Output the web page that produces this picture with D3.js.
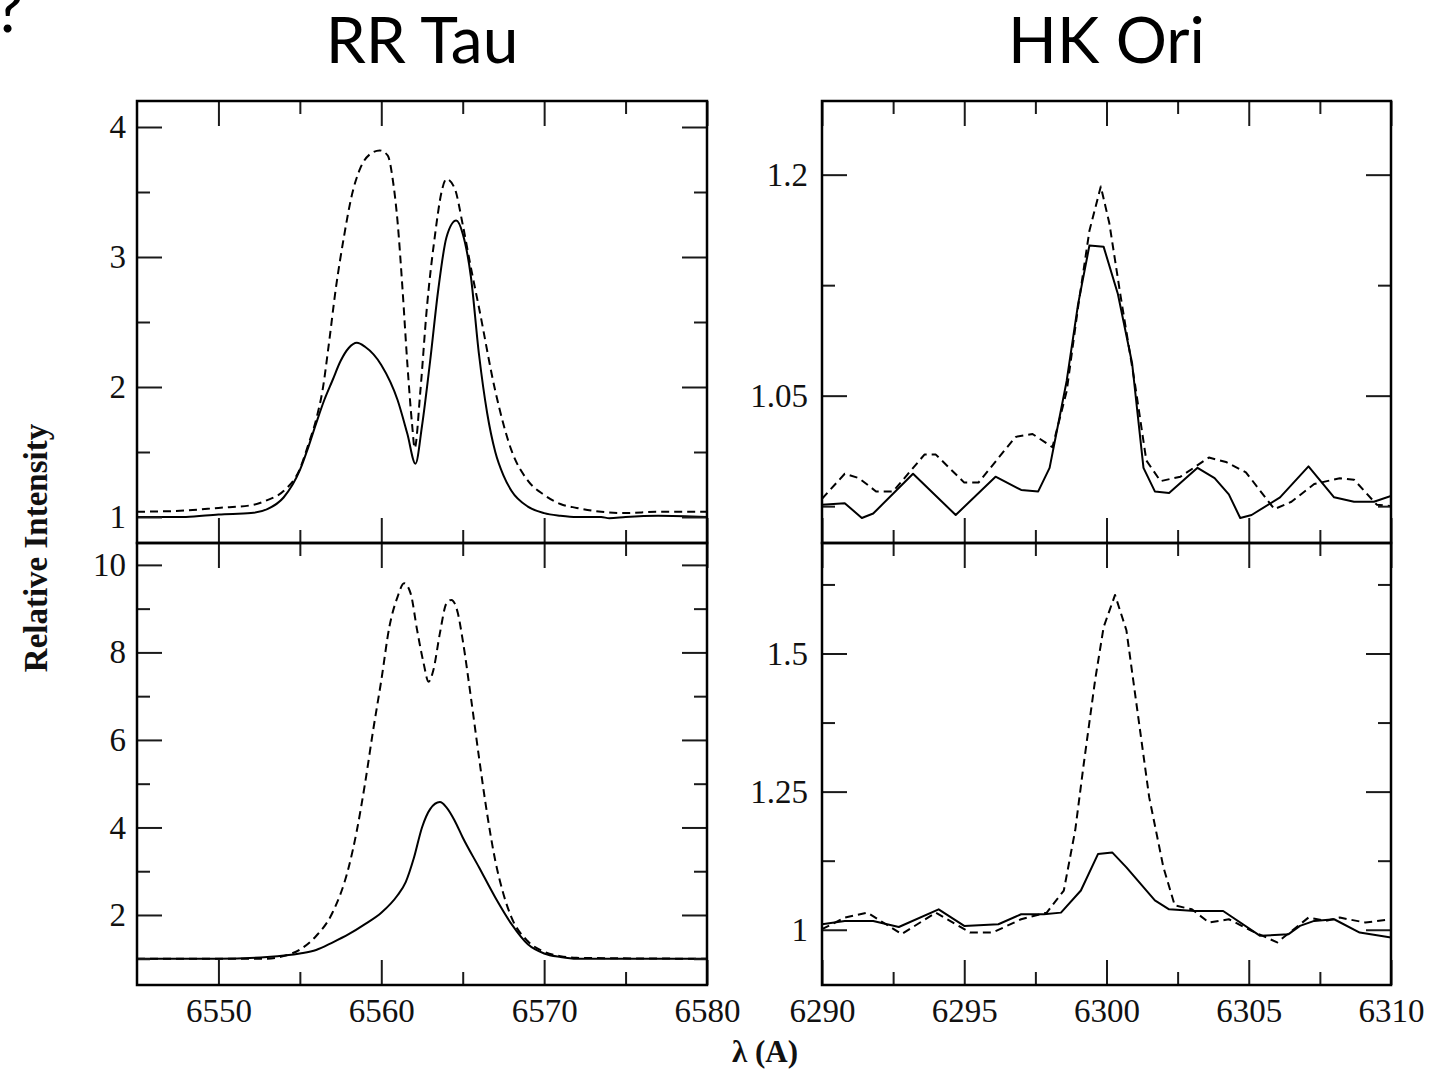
<!DOCTYPE html>
<html>
<head>
<meta charset="utf-8">
<script src="https://cdn.jsdelivr.net/npm/d3@7"></script>
<style>
  body { margin: 0; background: #fff; }
  svg { display: block; }
</style>
</head>
<body>
<svg id="fig" width="1444" height="1074"></svg>
<script>
// ---- RR Tau, H-alpha region (upper panel) ----
const rrTauUpperSolidWave = [6545, 6548, 6550, 6552, 6553, 6554, 6555, 6555.5, 6556, 6556.5, 6557, 6557.5, 6558, 6558.5, 6559, 6560, 6561, 6561.6, 6562.1, 6562.5, 6563, 6563.5, 6564, 6564.6, 6565, 6565.5, 6566, 6566.5, 6567, 6567.5, 6568, 6569, 6570, 6571, 6572, 6573.5, 6574, 6575, 6577, 6580];
const rrTauUpperSolidFlux = [1.0, 1.0, 1.02, 1.03, 1.06, 1.15, 1.36, 1.53, 1.72, 1.9, 2.05, 2.2, 2.3, 2.34, 2.31, 2.17, 1.90, 1.64, 1.41, 1.70, 2.20, 2.75, 3.15, 3.28, 3.18, 2.85, 2.25, 1.8, 1.5, 1.32, 1.2, 1.08, 1.03, 1.01, 1.0, 1.0, 0.99, 1.0, 1.01, 1.0];
const rrTauUpperDashWave = [6545, 6548, 6550, 6552, 6553, 6554, 6555, 6555.5, 6556, 6556.4, 6556.8, 6557.2, 6557.7, 6558.2, 6558.7, 6559.3, 6559.9, 6560.4, 6560.7, 6561.0, 6561.3, 6561.6, 6561.9, 6562.05, 6562.4, 6562.8, 6563.3, 6563.7, 6564.0, 6564.5, 6565.0, 6565.5, 6566, 6567, 6568, 6569, 6570, 6571, 6572, 6573.5, 6575, 6577, 6580];
const rrTauUpperDashFlux = [1.04, 1.05, 1.07, 1.09, 1.13, 1.20, 1.37, 1.55, 1.75, 1.98, 2.35, 2.75, 3.15, 3.48, 3.68, 3.79, 3.82, 3.78, 3.60, 3.27, 2.76, 2.18, 1.70, 1.53, 1.97, 2.61, 3.17, 3.50, 3.60, 3.53, 3.25, 2.92, 2.61, 1.97, 1.51, 1.28, 1.17, 1.10, 1.07, 1.04, 1.03, 1.04, 1.04];

// ---- RR Tau, H-alpha region (lower panel) ----
const rrTauLowerSolidWave = [6545, 6550, 6553, 6555, 6556, 6557, 6558, 6559, 6560, 6561, 6561.5, 6562, 6562.5, 6563, 6563.6, 6564, 6564.5, 6565, 6566, 6567, 6568, 6569, 6570, 6571, 6572, 6575, 6580];
const rrTauLowerSolidFlux = [1.0, 1.0, 1.04, 1.12, 1.2, 1.37, 1.56, 1.79, 2.05, 2.45, 2.75, 3.3, 4.0, 4.42, 4.58, 4.46, 4.16, 3.77, 3.09, 2.40, 1.79, 1.33, 1.12, 1.04, 1.0, 1.0, 1.0];
const rrTauLowerDashWave = [6545, 6550, 6553, 6554, 6555, 6556, 6557, 6558, 6558.5, 6559, 6559.5, 6560, 6560.5, 6561, 6561.4, 6561.8, 6562.2, 6562.6, 6562.9, 6563.2, 6563.6, 6564, 6564.3, 6564.7, 6565, 6565.5, 6566, 6566.5, 6567, 6567.5, 6568, 6569, 6570, 6571, 6572, 6580];
const rrTauLowerDashFlux = [1.0, 1.0, 1.0, 1.06, 1.21, 1.52, 2.05, 3.09, 3.93, 5.0, 6.22, 7.36, 8.59, 9.27, 9.58, 9.35, 8.51, 7.75, 7.33, 7.6, 8.44, 9.12, 9.2, 8.9, 8.28, 6.98, 5.6, 4.31, 3.24, 2.48, 1.94, 1.4, 1.16, 1.06, 1.02, 1.0];

// ---- HK Ori, [O I] 6300 region (upper panel) ----
const hkOriUpperSolidWave = [6290, 6290.8, 6291.4, 6291.8, 6293.2, 6294.7, 6296.1, 6297.0, 6297.6, 6298.0, 6298.6, 6299.0, 6299.4, 6299.9, 6300.4, 6300.9, 6301.3, 6301.7, 6302.2, 6303.2, 6303.8, 6304.3, 6304.7, 6305.1, 6306.1, 6307.1, 6308.0, 6308.7, 6309.4, 6310];
const hkOriUpperSolidFlux = [0.976, 0.977, 0.967, 0.970, 0.997, 0.969, 0.995, 0.986, 0.985, 1.001, 1.06, 1.112, 1.152, 1.151, 1.119, 1.072, 1.001, 0.985, 0.984, 1.001, 0.994, 0.983, 0.967, 0.969, 0.981, 1.002, 0.981, 0.978, 0.978, 0.982];
const hkOriUpperDashWave = [6290, 6290.8, 6291.3, 6291.9, 6292.5, 6293.6, 6294.0, 6295.0, 6295.5, 6296.8, 6297.4, 6298.1, 6298.6, 6299.0, 6299.4, 6299.8, 6300.1, 6300.5, 6301.0, 6301.4, 6301.9, 6302.6, 6303.6, 6304.2, 6304.9, 6305.9, 6306.5, 6307.3, 6308.2, 6308.7, 6309.5, 6310];
const hkOriUpperDashFlux = [0.980, 0.997, 0.994, 0.985, 0.985, 1.010, 1.010, 0.991, 0.991, 1.022, 1.024, 1.015, 1.053, 1.11, 1.162, 1.192, 1.167, 1.117, 1.058, 1.006, 0.992, 0.995, 1.008, 1.005, 0.998, 0.973, 0.978, 0.99, 0.994, 0.993, 0.976, 0.975];

// ---- HK Ori, [O I] 6300 region (lower panel) ----
const hkOriLowerSolidWave = [6290, 6290.8, 6291.8, 6292.7, 6294.1, 6295.0, 6296.2, 6297.0, 6297.8, 6298.4, 6299.1, 6299.7, 6300.2, 6300.7, 6301.7, 6302.2, 6303.1, 6304.1, 6305.4, 6306.4, 6306.8, 6307.3, 6308.0, 6308.9, 6310];
const hkOriLowerSolidFlux = [1.010, 1.016, 1.016, 1.005, 1.037, 1.007, 1.010, 1.028, 1.028, 1.031, 1.071, 1.137, 1.140, 1.113, 1.053, 1.037, 1.034, 1.034, 0.989, 0.992, 1.007, 1.016, 1.019, 0.995, 0.986];
const hkOriLowerDashWave = [6290, 6290.8, 6291.6, 6292.8, 6294.0, 6295.2, 6296.0, 6297.0, 6297.9, 6298.5, 6298.9, 6299.2, 6299.6, 6299.9, 6300.3, 6300.7, 6301.1, 6301.5, 6302.0, 6302.4, 6303.0, 6303.6, 6304.3, 6305.1, 6306.0, 6307.1, 6307.7, 6308.2, 6309.1, 6310];
const hkOriLowerDashFlux = [1.001, 1.022, 1.031, 0.992, 1.031, 0.995, 0.995, 1.019, 1.031, 1.071, 1.18, 1.30, 1.452, 1.548, 1.606, 1.542, 1.391, 1.24, 1.113, 1.044, 1.037, 1.013, 1.019, 0.998, 0.977, 1.022, 1.016, 1.022, 1.013, 1.019];

// ---- Axis ticks and labels ----
const haMajorTicks = [6550, 6560, 6570, 6580];
const haMinorTicks = [6555, 6565, 6575];
const haTickLabels = ["6550", "6560", "6570", "6580"];
const oiMajorTicks = [6290, 6295, 6300, 6305, 6310];
const oiMinorTicks = [6292.5, 6297.5, 6302.5, 6307.5];
const oiTickLabels = ["6290", "6295", "6300", "6305", "6310"];

const rrUpperYTicks = [1, 2, 3, 4];
const rrUpperYMinor = [1.5, 2.5, 3.5];
const rrUpperYLabels = ["1", "2", "3", "4"];
const rrLowerYTicks = [2, 4, 6, 8, 10];
const rrLowerYMinor = [1, 3, 5, 7, 9];
const rrLowerYLabels = ["2", "4", "6", "8", "10"];
const hkUpperYTicks = [1.05, 1.2];
const hkUpperYMinor = [0.975, 1.125];
const hkUpperYLabels = ["1.05", "1.2"];
const hkLowerYTicks = [1, 1.25, 1.5];
const hkLowerYMinor = [1.125, 1.375, 1.625];
const hkLowerYLabels = ["1", "1.25", "1.5"];

const titles = ["RR Tau", "HK Ori"];
const yTitle = "Relative Intensity";
const xTitle = "\u03bb (A)";

// ---- Layout ----
const svg = d3.select("#fig");
const cols = [{ x0: 137, x1: 707 }, { x0: 822, x1: 1391 }];
const rows = [{ y0: 101, y1: 543 }, { y0: 543, y1: 985 }];
const MAJOR = 25, MINOR = 13;
const tickFont = "'Liberation Serif', 'Times New Roman', serif";

const panels = [
  { col: 0, row: 0, xDom: [6545, 6580], yDom: [0.8, 4.2], xMaj: haMajorTicks, xMin: haMinorTicks, xLab: null,
    yMaj: rrUpperYTicks, yMin: rrUpperYMinor, yLab: rrUpperYLabels, smooth: true,
    solid: [rrTauUpperSolidWave, rrTauUpperSolidFlux], dash: [rrTauUpperDashWave, rrTauUpperDashFlux] },
  { col: 0, row: 1, xDom: [6545, 6580], yDom: [0.4, 10.5], xMaj: haMajorTicks, xMin: haMinorTicks, xLab: haTickLabels,
    yMaj: rrLowerYTicks, yMin: rrLowerYMinor, yLab: rrLowerYLabels, smooth: true,
    solid: [rrTauLowerSolidWave, rrTauLowerSolidFlux], dash: [rrTauLowerDashWave, rrTauLowerDashFlux] },
  { col: 1, row: 0, xDom: [6290, 6310], yDom: [0.95, 1.25], xMaj: oiMajorTicks, xMin: oiMinorTicks, xLab: null,
    yMaj: hkUpperYTicks, yMin: hkUpperYMinor, yLab: hkUpperYLabels, smooth: false,
    solid: [hkOriUpperSolidWave, hkOriUpperSolidFlux], dash: [hkOriUpperDashWave, hkOriUpperDashFlux] },
  { col: 1, row: 1, xDom: [6290, 6310], yDom: [0.9, 1.7], xMaj: oiMajorTicks, xMin: oiMinorTicks, xLab: oiTickLabels,
    yMaj: hkLowerYTicks, yMin: hkLowerYMinor, yLab: hkLowerYLabels, smooth: false,
    solid: [hkOriLowerSolidWave, hkOriLowerSolidFlux], dash: [hkOriLowerDashWave, hkOriLowerDashFlux] }
];

function styleAxis(g) {
  g.select(".domain").remove();
  g.selectAll(".tick line").attr("stroke", "#1a1a1a").attr("stroke-width", 2);
  g.selectAll(".tick text").attr("fill", "#111").style("font-family", tickFont).style("font-size", "33px");
}

panels.forEach(p => {
  const c = cols[p.col], r = rows[p.row];
  const x = d3.scaleLinear().domain(p.xDom).range([c.x0, c.x1]);
  const y = d3.scaleLinear().domain(p.yDom).range([r.y1, r.y0]);
  const g = svg.append("g");
  const clipId = `clip-${p.col}-${p.row}`;
  g.append("clipPath").attr("id", clipId).append("rect")
    .attr("x", c.x0).attr("y", r.y0).attr("width", c.x1 - c.x0).attr("height", r.y1 - r.y0);

  // spectra: dashed first, solid on top
  const line = d3.line()
    .x(d => x(d[0])).y(d => y(d[1]))
    .curve(p.smooth ? d3.curveMonotoneX : d3.curveLinear);
  const plot = g.append("g").attr("clip-path", `url(#${clipId})`);
  [[p.dash, "8,5"], [p.solid, null]].forEach(([s, dash]) => {
    const pts = s[0].map((w, i) => [w, s[1][i]]);
    plot.append("path").datum(pts)
      .attr("d", line).attr("fill", "none").attr("stroke", "#000")
      .attr("stroke-width", 2).attr("stroke-linejoin", "round")
      .attr("stroke-dasharray", dash);
  });

  // x ticks, bottom and top, pointing inward
  const xLab = p.xLab;
  g.append("g").attr("transform", `translate(0,${r.y1})`)
    .call(d3.axisBottom(x).tickValues(p.xMaj).tickSizeInner(-MAJOR).tickSizeOuter(0).tickPadding(14)
      .tickFormat((d, i) => xLab ? xLab[i] : ""))
    .call(styleAxis);
  g.append("g").attr("transform", `translate(0,${r.y1})`)
    .call(d3.axisBottom(x).tickValues(p.xMin).tickSizeInner(-MINOR).tickSizeOuter(0).tickFormat(""))
    .call(styleAxis);
  g.append("g").attr("transform", `translate(0,${r.y0})`)
    .call(d3.axisTop(x).tickValues(p.xMaj).tickSizeInner(-MAJOR).tickSizeOuter(0).tickFormat(""))
    .call(styleAxis);
  g.append("g").attr("transform", `translate(0,${r.y0})`)
    .call(d3.axisTop(x).tickValues(p.xMin).tickSizeInner(-MINOR).tickSizeOuter(0).tickFormat(""))
    .call(styleAxis);

  // y ticks, left and right, pointing inward
  g.append("g").attr("transform", `translate(${c.x0},0)`)
    .call(d3.axisLeft(y).tickValues(p.yMaj).tickSizeInner(-MAJOR).tickSizeOuter(0).tickPadding(p.col ? 14 : 11)
      .tickFormat((d, i) => p.yLab[i]))
    .call(styleAxis);
  g.append("g").attr("transform", `translate(${c.x0},0)`)
    .call(d3.axisLeft(y).tickValues(p.yMin).tickSizeInner(-MINOR).tickSizeOuter(0).tickFormat(""))
    .call(styleAxis);
  g.append("g").attr("transform", `translate(${c.x1},0)`)
    .call(d3.axisRight(y).tickValues(p.yMaj).tickSizeInner(-MAJOR).tickSizeOuter(0).tickFormat(""))
    .call(styleAxis);
  g.append("g").attr("transform", `translate(${c.x1},0)`)
    .call(d3.axisRight(y).tickValues(p.yMin).tickSizeInner(-MINOR).tickSizeOuter(0).tickFormat(""))
    .call(styleAxis);

  // frame
  g.append("rect")
    .attr("x", c.x0).attr("y", r.y0).attr("width", c.x1 - c.x0).attr("height", r.y1 - r.y0)
    .attr("fill", "none").attr("stroke", "#000").attr("stroke-width", 2.5);
});

// column titles
const titleFont = "Lato, 'Open Sans', sans-serif";
titles.forEach((t, i) => {
  svg.append("text")
    .attr("x", (cols[i].x0 + cols[i].x1) / 2).attr("y", 63)
    .attr("text-anchor", "middle")
    .style("font-family", titleFont).style("font-size", "64px").attr("fill", "#000")
    .text(t);
});

// trailing mark of the slide heading above the figure
svg.append("text")
  .attr("x", 9).attr("y", 32).attr("text-anchor", "middle")
  .style("font-family", titleFont).style("font-size", "64px").attr("fill", "#000")
  .text("?");

// axis titles
svg.append("text")
  .attr("transform", "translate(47,548) rotate(-90)")
  .attr("text-anchor", "middle")
  .style("font-family", tickFont).style("font-size", "33px").style("font-weight", "bold")
  .attr("fill", "#111")
  .text(yTitle);

svg.append("text")
  .attr("x", 765).attr("y", 1062).attr("text-anchor", "middle")
  .style("font-family", tickFont).style("font-size", "31px").style("font-weight", "bold")
  .attr("fill", "#111")
  .text(xTitle);
</script>
</body>
</html>
